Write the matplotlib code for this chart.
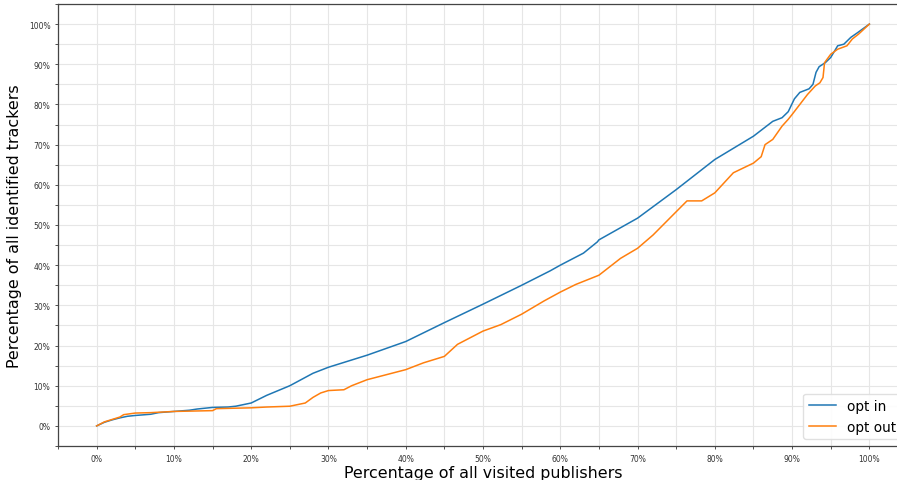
import numpy as np
import matplotlib
matplotlib.use("Agg")
import matplotlib.pyplot as plt
from matplotlib.ticker import MultipleLocator, PercentFormatter

# share of visited publishers (x, in %) vs share of identified trackers (y, in %)
opt_in_x = [0, 1, 2, 3, 4, 5, 7, 8, 10, 12, 13, 15, 17, 18, 20, 22, 25, 28, 30,
            35, 40, 45, 50, 55, 58.7, 60, 63, 64.8, 65, 70, 75, 80, 85, 87.5,
            88.7, 89.5, 90.3, 91, 92.2, 92.7, 93.1, 93.5, 94.3, 95, 95.9, 96.7,
            97.6, 98.5, 100]
opt_in_y = [0, 0.9, 1.5, 2.0, 2.4, 2.6, 2.9, 3.3, 3.6, 3.9, 4.2, 4.6, 4.7, 4.9,
            5.7, 7.6, 10.0, 13.1, 14.6, 17.6, 21.0, 25.7, 30.3, 35.0, 38.6, 40.0,
            43.0, 45.8, 46.3, 51.7, 58.8, 66.3, 72.1, 75.8, 76.7, 78.2, 81.4,
            83.0, 83.9, 85.0, 88.0, 89.4, 90.4, 91.7, 94.6, 95.0, 96.7, 97.9, 100]

opt_out_x = [0, 1, 2, 3, 3.5, 5, 7, 10, 15, 15.5, 20, 22, 25, 26, 27, 28, 29, 30,
             32, 33, 35, 40, 42.3, 45, 46.7, 50, 52.3, 55, 57.9, 60, 62, 65, 67.8,
             70, 72, 73.5, 75, 76.4, 78.3, 80, 82.4, 85, 86, 86.5, 87.5, 88.7,
             89.5, 90, 91, 92, 93, 93.6, 94, 94.2, 95, 95.9, 97.1, 97.8, 98.6, 100]
opt_out_y = [0, 1.0, 1.6, 2.2, 2.8, 3.2, 3.3, 3.6, 3.8, 4.3, 4.5, 4.7, 4.9, 5.3,
             5.7, 7.1, 8.2, 8.8, 9.0, 10.0, 11.5, 14.0, 15.7, 17.3, 20.3, 23.6,
             25.2, 27.8, 31.1, 33.3, 35.2, 37.5, 41.7, 44.2, 47.5, 50.4, 53.3,
             56.0, 56.0, 58.0, 63.0, 65.4, 67.0, 70.0, 71.3, 74.6, 76.3, 77.5,
             80.0, 82.5, 84.6, 85.4, 86.7, 90.4, 92.5, 93.75, 94.6, 96.3, 97.5, 100]

fig = plt.figure(figsize=(8.97, 4.81), dpi=100)
# the original was cropped on the right, so the axes run past the figure edge
ax = fig.add_axes([58 / 897, 34 / 481, 850 / 897, 442 / 481])

ax.plot(opt_in_x, opt_in_y, color="#1f77b4", lw=1.1, label="opt in")
ax.plot(opt_out_x, opt_out_y, color="#ff7f0e", lw=1.1, label="opt out")

ax.set_xlim(-5, 105)
ax.set_ylim(-5, 105)
ax.xaxis.set_major_locator(MultipleLocator(10))
ax.yaxis.set_major_locator(MultipleLocator(10))
ax.xaxis.set_minor_locator(MultipleLocator(5))
ax.yaxis.set_minor_locator(MultipleLocator(5))
ax.xaxis.set_major_formatter(PercentFormatter(decimals=0))
ax.yaxis.set_major_formatter(PercentFormatter(decimals=0))
ax.tick_params(which="major", labelsize=5.5, colors="#333333", width=0.6, length=2.5, pad=3)
ax.tick_params(which="minor", colors="#333333", width=0.6, length=2)
ax.grid(which="both", color="#e6e6e6", lw=0.8)
ax.set_axisbelow(True)
for s in ax.spines.values():
    s.set_color("#444444")
    s.set_linewidth(0.9)

ax.set_xlabel("Percentage of all visited publishers", fontsize=11.4, labelpad=2)
ax.set_ylabel("Percentage of all identified trackers", fontsize=11.4, labelpad=5)

ax.legend(loc="lower right", fontsize=9.8, framealpha=0.9, edgecolor="#dddddd")

fig.savefig("out.png", dpi=100)
